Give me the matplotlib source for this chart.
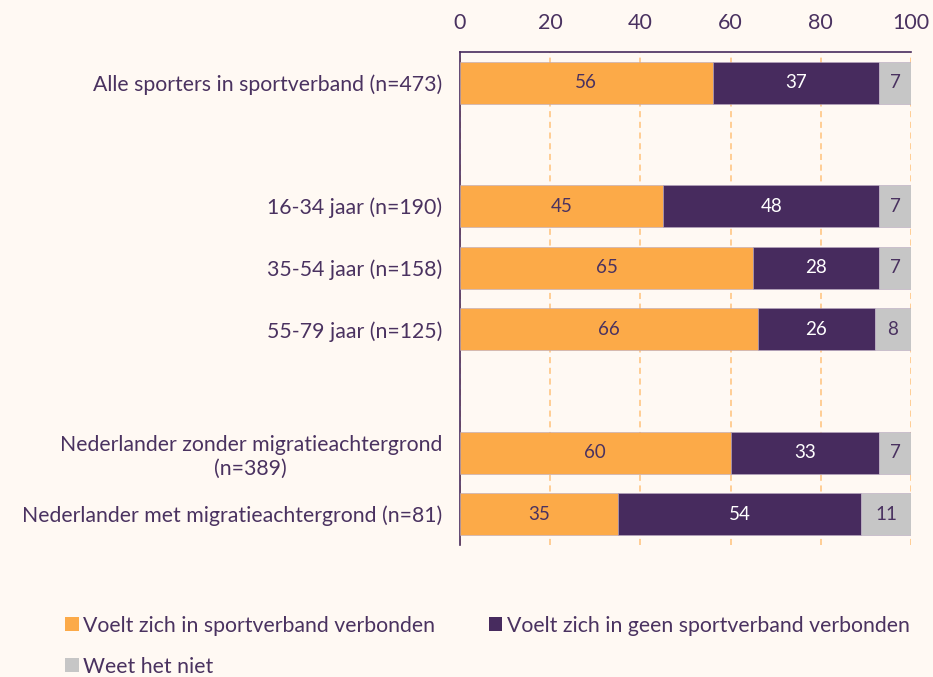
import matplotlib.pyplot as plt
from matplotlib.patches import Patch

plt.rcParams['font.family'] = ['Lato', 'DejaVu Sans']

# data
categories = ['Alle sporters in sportverband (n=473)', '',
              '16-34 jaar (n=190)', '35-54 jaar (n=158)', '55-79 jaar (n=125)', '',
              'Nederlander zonder migratieachtergrond\n(n=389)',
              'Nederlander met migratieachtergrond (n=81)']
verbonden = [56, None, 45, 65, 66, None, 60, 35]
niet_verbonden = [37, None, 48, 28, 26, None, 33, 54]
weet_niet = [7, None, 7, 7, 8, None, 7, 11]
series_names = ['Voelt zich in sportverband verbonden',
                'Voelt zich in geen sportverband verbonden',
                'Weet het niet']

bg = '#FFF9F3'
txt = '#4A3260'
colors = ['#FCAA48', '#472B5E', '#C6C6C6']
label_colors = [txt, 'white', txt]

fig = plt.figure(figsize=(9.33, 6.77), dpi=100, facecolor=bg)
ax = fig.add_axes([0.493, 0.195, 0.4834, 0.7282], facecolor=bg)

ax.set_xlim(0, 100)
ax.set_ylim(7.5, -0.5)
ax.xaxis.tick_top()
ax.set_xticks([0, 20, 40, 60, 80, 100])
ax.tick_params(axis='x', length=0, pad=14, labelsize=15.5, labelcolor=txt)
ax.tick_params(axis='y', length=0, pad=13, labelsize=15.3, labelcolor=txt)
ax.grid(axis='x', color='#FFC27A', linestyle=(0, (4, 3)), linewidth=1.1)
ax.set_axisbelow(True)

for s in ['right', 'bottom']:
    ax.spines[s].set_visible(False)
for s in ['top', 'left']:
    ax.spines[s].set_color('#472B5E')
    ax.spines[s].set_linewidth(1.2)

for i, cat in enumerate(categories):
    if verbonden[i] is None:
        continue
    left = 0
    for j, vals in enumerate([verbonden, niet_verbonden, weet_niet]):
        v = vals[i]
        ax.barh(i, v, left=left, height=0.68, color=colors[j],
                edgecolor='#B8A8C0', linewidth=0.4, zorder=3)
        ax.text(left + v / 2, i, str(v), ha='center', va='center',
                color=label_colors[j], fontsize=13.5, zorder=4)
        left += v

ax.set_yticks(range(len(categories)))
ax.set_yticklabels(categories, multialignment='center', linespacing=1.3)

# legend filled column-wise: orange, grey in col 1; purple in col 2
order = [0, 2, 1]
handles = [Patch(facecolor=colors[k], edgecolor='none') for k in order]
names = [series_names[k] for k in order]
fig.legend(handles, names, loc='upper left', bbox_to_anchor=(0.061, 0.103),
           ncol=2, frameon=False, fontsize=15.3, labelcolor=txt,
           handlelength=0.65, handleheight=0.65, handletextpad=0.2,
           columnspacing=2.5, labelspacing=0.98, borderaxespad=0)

fig.savefig('out.png', dpi=100, facecolor=bg)
